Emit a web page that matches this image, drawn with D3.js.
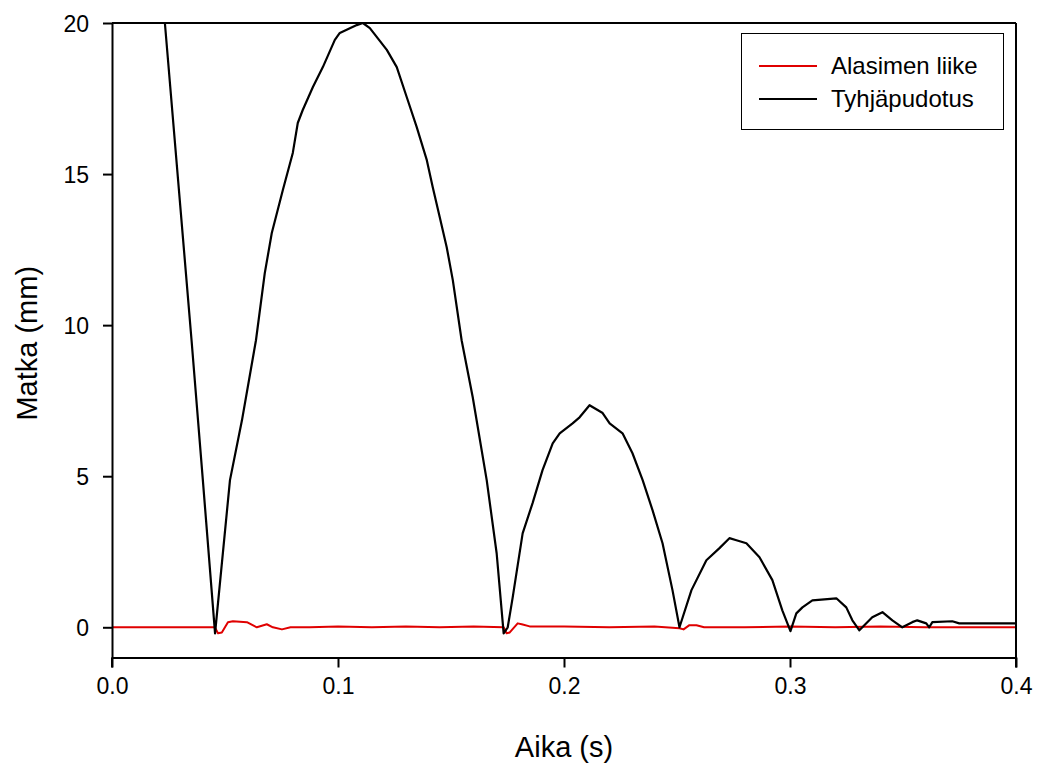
<!DOCTYPE html>
<html>
<head>
<meta charset="utf-8">
<script src="https://cdn.jsdelivr.net/npm/d3@7"></script>
<style>
  html, body { margin: 0; padding: 0; background: #fff; }
  svg { display: block; font-family: Arial, "Liberation Sans", sans-serif; }
</style>
</head>
<body>
<svg id="chart" width="1039" height="764"></svg>
<script>
// Tyhjäpudotus (free drop) – time in seconds
const dropTime = [
  0.0180, 0.0234, 0.0352, 0.0402, 0.0456, 0.0522, 0.0575, 0.0637, 0.0676, 0.0707,
  0.0756, 0.0800, 0.0822, 0.0844, 0.0889, 0.0933, 0.0986, 0.1008, 0.1083, 0.1110,
  0.1141, 0.1216, 0.1260, 0.1304, 0.1348, 0.1393, 0.1419, 0.1450, 0.1481, 0.1508,
  0.1547, 0.1596, 0.1658, 0.1702, 0.1733, 0.1751, 0.1773, 0.1817, 0.1861, 0.1905,
  0.1950, 0.1981, 0.2038, 0.2069, 0.2113, 0.2171, 0.2202, 0.2259, 0.2303, 0.2348,
  0.2392, 0.2436, 0.2480, 0.2511, 0.2564, 0.2630, 0.2688, 0.2732, 0.2763, 0.2807,
  0.2865, 0.2922, 0.2966, 0.3002, 0.3028, 0.3055, 0.3099, 0.3205, 0.3249, 0.3276,
  0.3307, 0.3364, 0.3409, 0.3453, 0.3497, 0.3541, 0.3563, 0.3603, 0.3616, 0.3630,
  0.3718, 0.3749, 0.3850, 0.4000
];
// Tyhjäpudotus – distance in mm
const dropDist = [
  24.80, 20.00, 9.50, 4.87, -0.20, 4.87, 6.85, 9.50, 11.72, 13.05,
  14.47, 15.70, 16.69, 17.12, 17.88, 18.54, 19.44, 19.67, 19.93, 20.00,
  19.83, 19.11, 18.54, 17.55, 16.56, 15.46, 14.57, 13.58, 12.58, 11.49,
  9.50, 7.62, 4.87, 2.45, -0.20, 0.00, 0.99, 3.11, 4.11, 5.20,
  6.09, 6.42, 6.75, 6.95, 7.35, 7.09, 6.75, 6.42, 5.76, 4.87,
  3.87, 2.78, 1.23, 0.00, 1.23, 2.22, 2.62, 2.95, 2.88, 2.78,
  2.32, 1.56, 0.56, -0.13, 0.46, 0.66, 0.89, 0.96, 0.66, 0.23,
  -0.10, 0.33, 0.50, 0.23, 0.00, 0.17, 0.23, 0.13, 0.00, 0.17,
  0.20, 0.13, 0.13, 0.13
];

// Alasimen liike (anvil motion) – time in seconds
const anvilTime = [
  0.0000, 0.0455, 0.0469, 0.0486, 0.0513, 0.0535, 0.0597, 0.0641, 0.0685, 0.0712,
  0.0752, 0.0790, 0.0875, 0.1000, 0.1150, 0.1300, 0.1450, 0.1600, 0.1733, 0.1746,
  0.1760, 0.1795, 0.1813, 0.1848, 0.2000, 0.2200, 0.2400, 0.2511, 0.2529, 0.2555,
  0.2586, 0.2620, 0.2800, 0.3000, 0.3200, 0.3400, 0.3600, 0.3800, 0.4000
];
// Alasimen liike – distance in mm
const anvilDist = [
  0.00, 0.00, -0.20, -0.17, 0.17, 0.20, 0.17, 0.00, 0.10, 0.00,
  -0.07, 0.00, 0.00, 0.03, 0.00, 0.03, 0.00, 0.03, 0.00, -0.20,
  -0.17, 0.13, 0.10, 0.03, 0.03, 0.00, 0.03, -0.03, -0.07, 0.07,
  0.07, 0.00, 0.00, 0.03, 0.00, 0.03, 0.00, 0.00, 0.00
];

const xTicks = [0.0, 0.1, 0.2, 0.3, 0.4];
const yTicks = [0, 5, 10, 15, 20];

const seriesNames = ["Alasimen liike", "Tyhjäpudotus"];
const seriesColors = ["#e00000", "#000000"];

const svg = d3.select("#chart");

const x = d3.scaleLinear().domain([0, 0.4]).range([112, 1016]);
const y = d3.scaleLinear().domain([-1, 20]).range([657.5, 23]);

// clip region for the data lines
svg.append("defs").append("clipPath").attr("id", "plotClip")
  .append("rect")
  .attr("x", x(0)).attr("y", y(20) - 1)
  .attr("width", x(0.4) - x(0)).attr("height", y(-1) - y(20) + 1);

const line = d3.line().x(d => x(d[0])).y(d => y(d[1]));

const plot = svg.append("g").attr("clip-path", "url(#plotClip)");

plot.append("path")
  .datum(anvilTime.map((t, i) => [t, anvilDist[i]]))
  .attr("d", line)
  .attr("fill", "none")
  .attr("stroke", seriesColors[0])
  .attr("stroke-width", 2)
  .attr("stroke-linejoin", "round");

plot.append("path")
  .datum(dropTime.map((t, i) => [t, dropDist[i]]))
  .attr("d", line)
  .attr("fill", "none")
  .attr("stroke", seriesColors[1])
  .attr("stroke-width", 2.2)
  .attr("stroke-linejoin", "round");

// axes
const xAxis = svg.append("g")
  .attr("transform", `translate(0,${y(-1)})`)
  .call(d3.axisBottom(x).tickValues(xTicks).tickFormat(d3.format(".1f"))
    .tickSizeInner(10).tickSizeOuter(0).tickPadding(10));

const yAxis = svg.append("g")
  .attr("transform", `translate(${x(0)},0)`)
  .call(d3.axisLeft(y).tickValues(yTicks).tickFormat(d3.format("d"))
    .tickSizeInner(9).tickSizeOuter(0).tickPadding(14));

[xAxis, yAxis].forEach(g => {
  g.select(".domain").attr("stroke", "#000").attr("stroke-width", 2);
  g.selectAll(".tick line").attr("stroke", "#000").attr("stroke-width", 2);
  g.selectAll(".tick text")
    .attr("fill", "#000")
    .style("font-size", "23px")
    .style("font-family", "Arial, 'Liberation Sans', sans-serif");
});
yAxis.selectAll(".tick text").attr("dy", "0.36em");

// frame: top and right edges
svg.append("line")
  .attr("x1", x(0)).attr("x2", x(0.4))
  .attr("y1", y(20)).attr("y2", y(20))
  .attr("stroke", "#000").attr("stroke-width", 2);
svg.append("line")
  .attr("x1", x(0.4)).attr("x2", x(0.4))
  .attr("y1", y(20)).attr("y2", y(-1) + 10)
  .attr("stroke", "#000").attr("stroke-width", 2);
svg.append("line")
  .attr("x1", x(0)).attr("x2", x(0))
  .attr("y1", y(-1)).attr("y2", y(-1) + 10)
  .attr("stroke", "#000").attr("stroke-width", 2);

// axis titles
svg.append("text")
  .attr("x", (x(0) + x(0.4)) / 2)
  .attr("y", 757)
  .attr("text-anchor", "middle")
  .style("font-size", "29px")
  .text("Aika (s)");

svg.append("text")
  .attr("transform", `translate(37,${(y(20) + y(-1)) / 2 + 3}) rotate(-90)`)
  .attr("text-anchor", "middle")
  .style("font-size", "29px")
  .text("Matka (mm)");

// legend
const legend = svg.append("g");
legend.append("rect")
  .attr("x", 741.5).attr("y", 33.5)
  .attr("width", 262).attr("height", 96)
  .attr("fill", "#fff").attr("stroke", "#000").attr("stroke-width", 1);

seriesNames.forEach((name, i) => {
  const ly = 66 + i * 33;
  legend.append("line")
    .attr("x1", 759).attr("x2", 817)
    .attr("y1", ly).attr("y2", ly)
    .attr("stroke", seriesColors[i]).attr("stroke-width", 2);
  legend.append("text")
    .attr("x", 831).attr("y", ly + 8)
    .style("font-size", "24px")
    .text(name);
});
</script>
</body>
</html>
